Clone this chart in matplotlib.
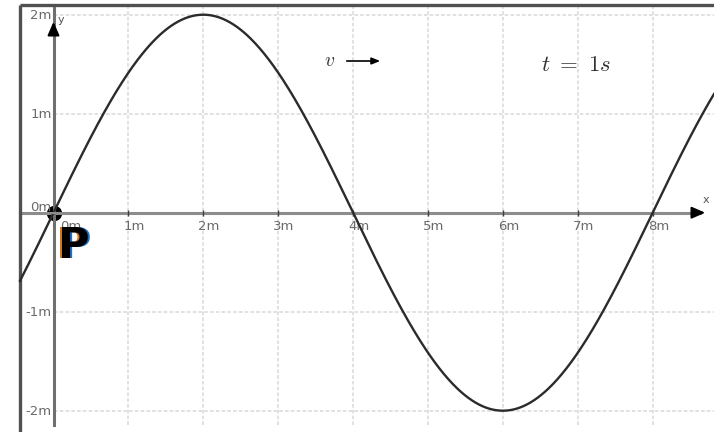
import numpy as np
import matplotlib
matplotlib.use("Agg")
import matplotlib.pyplot as plt

# wave
amplitude = 2.0        # m
wavelength = 8.0       # m
x_ticks = [1, 2, 3, 4, 5, 6, 7, 8]
x_tick_labels = ["1m", "2m", "3m", "4m", "5m", "6m", "7m", "8m"]
y_ticks = [2, 1, -1, -2]
y_tick_labels = ["2m", "1m", "-1m", "-2m"]
time_label = r"$t\ =\ 1s$"
speed_label = r"$v$"

# pixel calibration of the original view (origin px, px per metre)
X0, Y0, SX, SY = 53.5, 212.7, 74.9, 99.0
W, H = 714, 432

def dx(px):
    return (px - X0) / SX

def dy(py):
    return (Y0 - py) / SY

plt.rcParams["mathtext.fontset"] = "cm"

fig = plt.figure(figsize=(W / 100, H / 100), dpi=100)
ax = fig.add_axes([0, 0, 1, 1])
ax.set_xlim(dx(0), dx(W))
ax.set_ylim(dy(H), dy(0))
ax.axis("off")

frame_x, frame_y = dx(20), dy(5)
axis_bottom = dy(425)

# grid
grid_kw = dict(color="#dedede", lw=1.3, linestyle=(0, (2.0, 1.2)), zorder=1)
for xv in x_ticks:
    ax.plot([xv, xv], [axis_bottom, frame_y], **grid_kw)
for yv in y_ticks:
    ax.plot([0, dx(W)], [yv, yv], **grid_kw)

# frame
ax.plot([frame_x, frame_x], [dy(H), frame_y], color="#505050", lw=2.4, zorder=5,
        solid_capstyle="butt")
ax.plot([frame_x, dx(W)], [frame_y, frame_y], color="#505050", lw=2.4, zorder=5,
        solid_capstyle="butt")

# axes
ax.plot([frame_x, dx(700)], [0, 0], color="#8c8c8c", lw=2.2, zorder=3)
ax.plot([0, 0], [axis_bottom, frame_y], color="#707070", lw=2.2, zorder=3)
ax.annotate("", xy=(dx(708), 0), xytext=(dx(690), 0),
            arrowprops=dict(arrowstyle="-|>,head_length=0.8,head_width=0.35",
                            color="black", lw=1.5), zorder=4)
ax.annotate("", xy=(0, dy(19)), xytext=(0, dy(33)),
            arrowprops=dict(arrowstyle="-|>,head_length=0.8,head_width=0.35",
                            color="black", lw=1.5), zorder=4)
ax.text(dx(703), dy(200), "x", fontsize=8, color="#555555", ha="left", va="center")
ax.text(dx(58), dy(20), "y", fontsize=8, color="#555555", ha="left", va="center")

# ticks and labels
label_kw = dict(fontsize=9.5, color="#6a6a6a", zorder=4)
ax.plot(x_ticks, [0] * len(x_ticks), linestyle="none", marker="|",
        markersize=4, color="#404040", zorder=4)
for xv, lab in zip(x_ticks, x_tick_labels):
    ax.annotate(lab, (xv, 0), xytext=(-5, -7), textcoords="offset pixels",
                ha="left", va="top", **label_kw)
ax.annotate("0m", (0, 0), xytext=(7, -7), textcoords="offset pixels",
            ha="left", va="top", **label_kw)
for yv, lab in zip(y_ticks, y_tick_labels):
    ax.annotate(lab, (0, yv), xytext=(-2, -1), textcoords="offset pixels",
                ha="right", va="center", **label_kw)
ax.annotate("0m", (0, 0), xytext=(-2, 5), textcoords="offset pixels",
            ha="right", va="center", **label_kw)

# wave
xs = np.linspace(frame_x, dx(W), 600)
ys = amplitude * np.sin(2 * np.pi * xs / wavelength)
ax.plot(xs, ys, color="#2b2b2b", lw=1.7, zorder=6)

# point P at origin
ax.plot([0], [0], marker="o", markersize=10, color="black", zorder=2)
ax.plot([-0.08, 0.08], [0, 0], color="#8c8c8c", lw=1.5, zorder=7)
for off, col in [(-2, "#d07a1c"), (2, "#1f6fc8"), (0, "black")]:
    ax.annotate("P", (0, 0), xytext=(4 + off, -12), textcoords="offset pixels",
                ha="left", va="top", fontsize=31, fontweight="bold",
                family="DejaVu Sans", color=col, zorder=8)

# annotations
ax.text(dx(324), dy(61), speed_label, fontsize=14, color="#333333",
        ha="left", va="center")
ax.annotate("", xy=(dx(383), dy(61)), xytext=(dx(344), dy(61)),
            arrowprops=dict(arrowstyle="-|>,head_length=0.5,head_width=0.2",
                            color="black", lw=1.2))
ax.text(dx(541), dy(65), time_label, fontsize=16.5, color="#333333",
        ha="left", va="center")

fig.savefig("out.png", dpi=100)
